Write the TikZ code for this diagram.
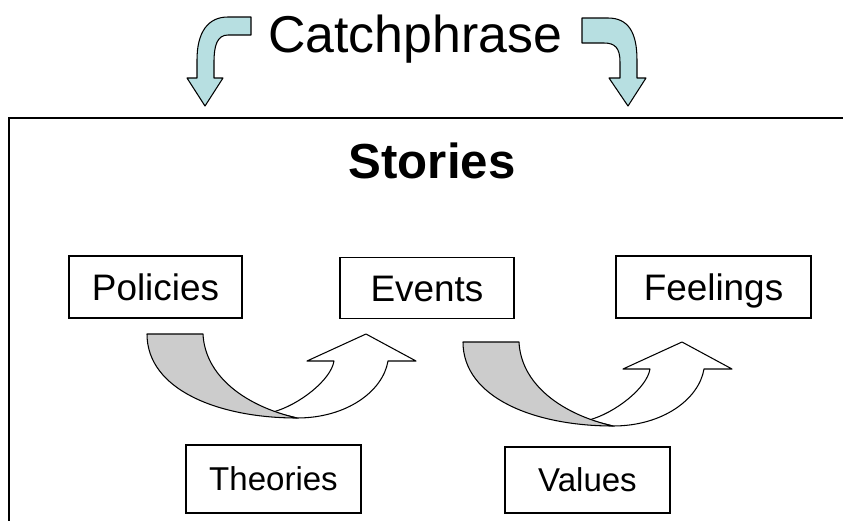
\documentclass[tikz,border=0pt]{standalone}
\usepackage{fontspec}
\setmainfont{Liberation Sans}
\usepackage{tikz}
\usetikzlibrary{positioning}
\definecolor{backgray}{HTML}{CCCCCC}
\definecolor{skyblue}{HTML}{B7DFE1}

\tikzset{
    termbox/.style={draw, line width=0.9pt, inner sep=0pt, text depth=0pt},
    bigterm/.style={termbox, text height=15pt, font=\fontsize{21}{25}\selectfont},
    smallterm/.style={termbox, text height=13.5pt, font=\fontsize{18.8}{22}\selectfont},
    ribbon/.style={draw, line width=0.6pt, line join=round},
}

\NewDocumentCommand{\uturnarrow}{%
    m       % position of the top left corner of the grey band
    }{%
    \begin{scope}[shift={#1}]
        % white front part with the head
        \filldraw[ribbon, fill=white] (126,78)
            .. controls (152,71) and (184,46) .. (187,27)
            -- (160,27) -- (219,0) -- (269,27) -- (241,27)
            .. controls (236,57) and (200,84) .. (150,84) -- cycle;
        % grey back part
        \filldraw[ribbon, fill=backgray] (0,0) -- (56,0)
            .. controls (58,42) and (98,72) .. (150,84)
            .. controls (72,84) and (0,56) .. (0,0) -- cycle;
    \end{scope}
}

\begin{document}
\begin{tikzpicture}[x=0.02cm, y=-0.02cm]
    \useasboundingbox (0,0) rectangle (843,521);

    % frame of the stories, open to the right and below
    \draw[line width=0.9pt] (9,530) -- (9,118) -- (850,118);

    \node[anchor=base, font=\fontsize{29.5}{34}\selectfont] (catch) at (415,52) {Catchphrase};
    \node[anchor=base, font=\bfseries\fontsize{28}{33}\selectfont] (stories) at (432,178) {Stories};

    % arrows out of the catchphrase
    \filldraw[ribbon, fill=skyblue] (251,17) -- (251,35) -- (228,35)
        .. controls (217,35) and (214,46) .. (214,62) -- (214,78)
        -- (223,78) -- (205,106) -- (187,78) -- (197,78) -- (197,60)
        .. controls (197,32) and (208,17) .. (228,17) -- cycle;
    \filldraw[ribbon, fill=skyblue] (582,18) -- (582,43) -- (604,43)
        .. controls (615,43) and (620,48) .. (620,62) -- (620,78)
        -- (609,78) -- (628,106) -- (646,78) -- (637,78) -- (637,60)
        .. controls (637,32) and (628,18) .. (608,18) -- cycle;

    \node[bigterm, minimum width=3.46cm, minimum height=1.24cm] (pol) at (155.5,287) {Policies};
    \node[bigterm, minimum width=3.48cm, minimum height=1.22cm] (evt) at (427,288) {Events};
    \node[bigterm, minimum width=3.9cm, minimum height=1.24cm] (feel) at (713.5,287) {Feelings};
    \node[smallterm, minimum width=3.5cm, minimum height=1.36cm] (theo) at (273.5,479) {Theories};
    \node[smallterm, minimum width=3.3cm, minimum height=1.32cm] (val) at (587.5,480) {Values};

    \uturnarrow{(147,334)}
    \uturnarrow{(463,342)}
\end{tikzpicture}
\end{document}
